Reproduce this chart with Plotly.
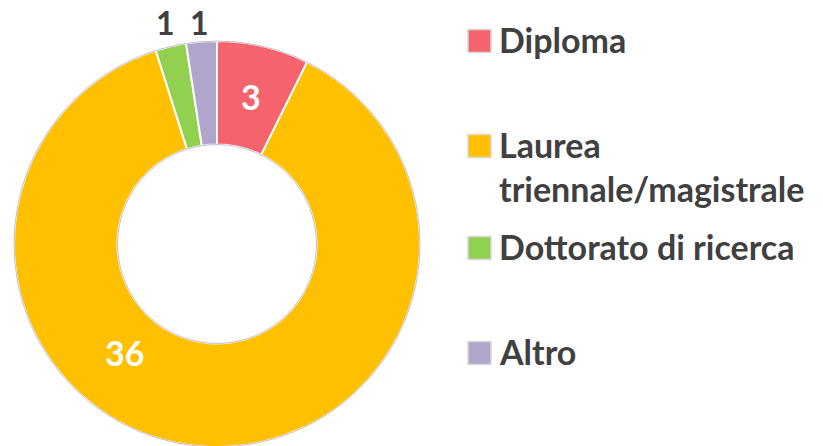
import math
import plotly.graph_objects as go

labels = ["Diploma", "Laurea triennale/magistrale", "Dottorato di ricerca", "Altro"]
values = [3, 36, 1, 1]
colors = ["#F5636C", "#FFC000", "#92D050", "#B0A5CB"]
legend_text = ["Diploma", "Laurea<br>triennale/magistrale", "Dottorato di ricerca", "Altro"]

W, H = 823, 446
OFF = 8  # page body margin, everything is laid out in screen pixels
FONT = "Lato"
DARK = "#404040"

# pie geometry in screen pixels
CX, CY, R = 217, 244, 203
HOLE = 0.49


def px(x):
    return (x - OFF) / W


def py(y):
    return 1 - (y - OFF) / H


def label(x, y, text, color, size=34):
    fig.add_annotation(
        x=px(x), y=py(y), xref="paper", yref="paper",
        xanchor="center", yanchor="middle", showarrow=False,
        text=text, font=dict(family=FONT, size=size, color=color, weight="bold"),
    )


fig = go.Figure()
fig.add_trace(
    go.Pie(
        labels=labels,
        values=values,
        sort=False,
        direction="clockwise",
        rotation=0,
        hole=HOLE,
        textinfo="none",
        marker=dict(colors=colors, line=dict(color="white", width=2)),
        domain=dict(x=[px(CX - R), px(CX + R)], y=[py(CY + R), py(CY - R)]),
        showlegend=False,
        hoverinfo="label+value",
    )
)

# thin grey rims around the ring
for rad in (R, R * HOLE):
    fig.add_shape(
        type="circle", xref="paper", yref="paper",
        x0=px(CX - rad), x1=px(CX + rad), y0=py(CY + rad), y1=py(CY - rad),
        line=dict(color="#C4BED6", width=1),
    )

# slice labels: inside for Diploma, above the ring for the thin ones
total = sum(values)
cum = 0
for i, v in enumerate(values):
    mid = 2 * math.pi * (cum + v / 2) / total
    cum += v
    if i == 0:
        rr = R * (1 + HOLE) / 2
        label(CX + rr * math.sin(mid), CY - rr * math.cos(mid), str(v), "white")
    elif i > 1:
        rr = R + 22
        label(CX + rr * math.sin(mid), CY - R - 18, str(v), DARK, size=32)

# label for the large slice (sits off its mid angle in the original)
label(125, 352, str(values[1]), "white")

# legend drawn by hand to keep the original spacing
row_y = [41, 146, 248, 353]
sq = 23
fs = 34
for name, col, y in zip(legend_text, colors, row_y):
    fig.add_shape(
        type="rect", xref="paper", yref="paper",
        x0=px(468), x1=px(468 + sq), y0=py(y - sq / 2), y1=py(y + sq / 2),
        fillcolor=col, line=dict(color="#D9D9D9", width=1.5),
    )
    fig.add_annotation(
        x=px(497), y=py(y - 0.65 * fs - 2), xref="paper", yref="paper",
        xanchor="left", yanchor="top", align="left",
        text=name, showarrow=False,
        font=dict(family=FONT, size=fs, color=DARK, weight="bold"),
    )

fig.update_layout(
    width=W,
    height=H,
    margin=dict(l=0, r=0, t=0, b=0, autoexpand=False),
    paper_bgcolor="white",
    plot_bgcolor="white",
)

fig.write_html("out.html")
